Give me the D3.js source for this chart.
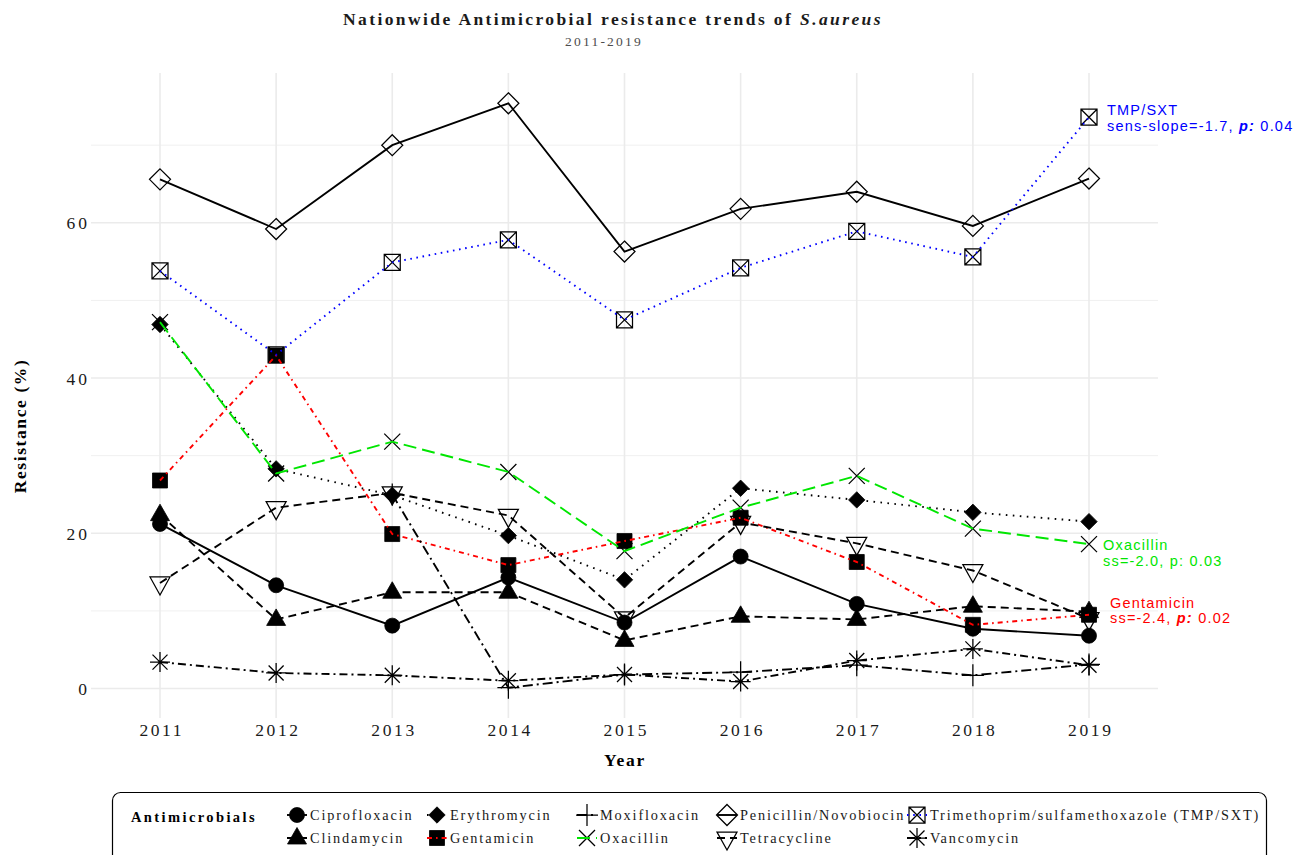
<!DOCTYPE html>
<html>
<head>
<meta charset="utf-8">
<script src="https://cdn.jsdelivr.net/npm/d3@7"></script>
<style>
  body { margin: 0; background: #fff; }
  svg { display: block; }
</style>
</head>
<body>
<svg id="chart" width="1311" height="855"></svg>
<script>
// ---- data: S. aureus resistance (%) per year ----
const years = [2011, 2012, 2013, 2014, 2015, 2016, 2017, 2018, 2019];
const yTicks = [0, 20, 40, 60];
const yMinorTicks = [10, 30, 50, 70];

const ciprofloxacin = [21.2, 13.3, 8.1, 14.3, 8.5, 17.0, 10.9, 7.7, 6.8];
const clindamycin   = [22.4, 8.9, 12.4, 12.4, 6.2, 9.3, 8.9, 10.6, 9.9];
const erythromycin  = [46.9, 28.3, 24.9, 19.7, 14.0, 25.8, 24.3, 22.7, 21.5];
const gentamicin    = [26.8, 42.9, 19.9, 15.9, 19.0, 22.0, 16.3, 8.2, 9.5];
const moxifloxacin  = [null, null, 25.0, 0.1, 1.8, 2.1, 3.0, 1.7, 3.1];
const oxacillin     = [47.2, 27.7, 31.8, 27.9, 17.7, 23.3, 27.4, 20.6, 18.6];
const penicillin    = [65.6, 59.2, 70.0, 75.4, 56.3, 61.8, 64.0, 59.6, 65.7];
const tetracycline  = [13.6, 23.3, 25.2, 22.3, 9.1, 21.4, 18.7, 15.2, 9.0];
const tmpSxt        = [53.8, 43.0, 54.9, 57.8, 47.5, 54.2, 58.9, 55.6, 73.6];
const vancomycin    = [3.4, 2.0, 1.7, 1.0, 1.8, 0.9, 3.6, 5.1, 3.0];

const seriesNames = [
  "Ciprofloxacin", "Clindamycin", "Erythromycin", "Gentamicin", "Moxifloxacin",
  "Oxacillin", "Penicillin/Novobiocin", "Tetracycline",
  "Trimethoprim/sulfamethoxazole (TMP/SXT)", "Vancomycin"
];
const seriesValues = [
  ciprofloxacin, clindamycin, erythromycin, gentamicin, moxifloxacin,
  oxacillin, penicillin, tetracycline, tmpSxt, vancomycin
];

// Mann-Kendall / Sen's slope notes for the significant trends
const trendNotes = [
  { series: "Trimethoprim/sulfamethoxazole (TMP/SXT)", title: "TMP/SXT", stat: "sens-slope=-1.7, ", p: "p:", pBold: true, pval: " 0.04" },
  { series: "Oxacillin", title: "Oxacillin", stat: "ss=-2.0, ", p: "p:", pBold: false, pval: " 0.03" },
  { series: "Gentamicin", title: "Gentamicin", stat: "ss=-2.4, ", p: "p:", pBold: true, pval: " 0.02" }
];

// ---- styling per series ----
const style = {
  "Ciprofloxacin": { color: "#000", dash: null, shape: "circle" },
  "Clindamycin": { color: "#000", dash: "8,5", shape: "triangle" },
  "Erythromycin": { color: "#000", dash: "1.6,5.4", shape: "diamondFilled" },
  "Gentamicin": { color: "#ff0000", dash: "5,4,1.6,4", shape: "square" },
  "Moxifloxacin": { color: "#000", dash: "10,4,2,4", shape: "plus" },
  "Oxacillin": { color: "#00e600", dash: "13,6", shape: "cross" },
  "Penicillin/Novobiocin": { color: "#000", dash: null, shape: "diamondOpen" },
  "Tetracycline": { color: "#000", dash: "8,5", shape: "triangleDown" },
  "Trimethoprim/sulfamethoxazole (TMP/SXT)": { color: "#0000ff", dash: "1.6,4.6", shape: "boxCross" },
  "Vancomycin": { color: "#000", dash: "8,4,2,4", shape: "asterisk" }
};
const noteColor = {
  "Trimethoprim/sulfamethoxazole (TMP/SXT)": "#0000ff",
  "Oxacillin": "#00e600",
  "Gentamicin": "#ff0000"
};

const shapes = {
  circle:        { d: d3.symbol(d3.symbolCircle, Math.PI * 7.5 * 7.5)(), fill: true },
  triangle:      { d: "M0,-10.5L9.5,6L-9.5,6Z", fill: true },
  square:        { d: "M-7.5,-7.5h15v15h-15Z", fill: true },
  diamondFilled: { d: "M0,-8.2L8.2,0L0,8.2L-8.2,0Z", fill: true },
  plus:          { d: "M-11,0H11M0,-11V11", fill: false },
  cross:         { d: "M-8,-8L8,8M-8,8L8,-8", fill: false },
  diamondOpen:   { d: "M0,-10.5L10.5,0L0,10.5L-10.5,0Z", fill: false },
  triangleDown:  { d: "M-10,-6L10,-6L0,12Z", fill: false },
  boxCross:      { d: "M-8,-8h16v16h-16ZM-8,-8L8,8M-8,8L8,-8", fill: false },
  asterisk:      { d: "M-10,0H10M0,-10V10M-7.5,-7.5L7.5,7.5M-7.5,7.5L7.5,-7.5", fill: false }
};

// ---- layout ----
const panel = { left: 91, right: 1158, top: 73, bottom: 718 };
const serif = "'Liberation Serif', 'Times New Roman', serif";
const sans = "'Liberation Sans', Arial, sans-serif";

const svg = d3.select("#chart");

const x = d3.scalePoint().domain(years).range([160, 1089]);
const y = d3.scaleLinear().domain([-3.8, 79.3]).range([panel.bottom, panel.top]);

// grid
const grid = svg.append("g");
grid.selectAll("line.minor").data(yMinorTicks).join("line")
  .attr("x1", panel.left).attr("x2", panel.right)
  .attr("y1", d => y(d)).attr("y2", d => y(d))
  .attr("stroke", "#f0f0f0").attr("stroke-width", 1);
grid.selectAll("line.major").data(yTicks).join("line")
  .attr("x1", panel.left).attr("x2", panel.right)
  .attr("y1", d => y(d)).attr("y2", d => y(d))
  .attr("stroke", "#ebebeb").attr("stroke-width", 1.6);
grid.selectAll("line.vx").data(years).join("line")
  .attr("x1", d => x(d)).attr("x2", d => x(d))
  .attr("y1", panel.top).attr("y2", panel.bottom)
  .attr("stroke", "#ebebeb").attr("stroke-width", 1.6);

// axes (text only, minimal theme)
const yAxis = d3.axisLeft(y).tickValues(yTicks).tickSize(0).tickPadding(0);
svg.append("g").attr("transform", `translate(${panel.left - 1},0)`).call(yAxis)
  .call(g => g.select(".domain").remove())
  .selectAll("text")
  .attr("font-family", serif).attr("font-size", 17.5).attr("fill", "#1a1a1a")
  .attr("letter-spacing", 3).attr("dy", "0.35em");

const xAxis = d3.axisBottom(x).tickSize(0).tickPadding(0);
svg.append("g").attr("transform", `translate(0,${panel.bottom + 18})`).call(xAxis)
  .call(g => g.select(".domain").remove())
  .selectAll("text")
  .attr("font-family", serif).attr("font-size", 17.5).attr("fill", "#1a1a1a")
  .attr("letter-spacing", 2.6).attr("dy", 0).attr("dx", 1.3);

// axis titles
svg.append("text").attr("x", 625).attr("y", 766)
  .attr("text-anchor", "middle").attr("font-family", serif)
  .attr("font-size", 17.5).attr("font-weight", "bold").attr("letter-spacing", 1.8)
  .text("Year");
svg.append("text").attr("transform", "translate(26,426) rotate(-90)")
  .attr("text-anchor", "middle").attr("font-family", serif)
  .attr("font-size", 17.5).attr("font-weight", "bold").attr("letter-spacing", 1.6)
  .text("Resistance (%)");

// title + subtitle
const title = svg.append("text").attr("x", 613).attr("y", 25)
  .attr("text-anchor", "middle").attr("font-family", serif)
  .attr("font-size", 17.5).attr("font-weight", "bold").attr("letter-spacing", 2.4)
  .attr("fill", "#1a1a1a");
title.append("tspan").text("Nationwide Antimicrobial resistance trends of ");
title.append("tspan").attr("font-style", "italic").text("S.aureus");
svg.append("text").attr("x", 604).attr("y", 46)
  .attr("text-anchor", "middle").attr("font-family", serif)
  .attr("font-size", 13.5).attr("letter-spacing", 2.2).attr("fill", "#4d4d4d")
  .text("2011-2019");

// series records
const series = seriesNames.map((name, i) => ({
  name,
  ...style[name],
  points: years.map((yr, j) => ({ year: yr, value: seriesValues[i][j] }))
    .filter(p => p.value !== null)
}));

function drawMarker(g, shapeName) {
  const s = shapes[shapeName];
  g.append("path").attr("d", s.d)
    .attr("fill", s.fill ? "#000" : "none")
    .attr("stroke", "#000")
    .attr("stroke-width", s.fill ? 0.8 : 1.25)
    .attr("stroke-linejoin", "miter");
}

// points first, lines on top
const pointLayer = svg.append("g");
series.forEach(s => {
  s.points.forEach(p => {
    const g = pointLayer.append("g").attr("transform", `translate(${x(p.year)},${y(p.value)})`);
    drawMarker(g, s.shape);
  });
});

const line = d3.line().x(d => x(d.year)).y(d => y(d.value));
const lineLayer = svg.append("g");
series.forEach(s => {
  lineLayer.append("path").datum(s.points)
    .attr("d", line)
    .attr("fill", "none")
    .attr("stroke", s.color)
    .attr("stroke-width", 1.9)
    .attr("stroke-dasharray", s.dash)
    .attr("stroke-linecap", "butt");
});

// trend notes next to the last year
const noteOffset = {
  "Trimethoprim/sulfamethoxazole (TMP/SXT)": { dx: 18, dy: -2 },
  "Oxacillin": { dx: 14, dy: 6 },
  "Gentamicin": { dx: 21, dy: -7 }
};
trendNotes.forEach(n => {
  const s = series.find(d => d.name === n.series);
  const last = s.points[s.points.length - 1];
  const off = noteOffset[n.series];
  const tx = x(last.year) + off.dx, ty = y(last.value) + off.dy;
  const t = svg.append("text").attr("font-family", sans).attr("font-size", 14.5)
    .attr("fill", noteColor[n.series]).attr("letter-spacing", 1.2);
  t.append("tspan").attr("x", tx).attr("y", ty).text(n.title);
  t.append("tspan").attr("x", tx).attr("y", ty + 15.5).text(n.stat);
  t.append("tspan").attr("font-weight", n.pBold ? "bold" : null)
    .attr("font-style", n.pBold ? "italic" : null).text(n.p);
  t.append("tspan").text(n.pval);
});

// legend
const legend = svg.append("g");
legend.append("rect").attr("x", 112.5).attr("y", 792.5)
  .attr("width", 1154).attr("height", 80).attr("rx", 8)
  .attr("fill", "#fff").attr("stroke", "#000").attr("stroke-width", 1.2);
legend.append("text").attr("x", 131).attr("y", 822)
  .attr("font-family", serif).attr("font-size", 14.5).attr("font-weight", "bold")
  .attr("letter-spacing", 2.4).text("Antimicrobials");

const colKeyX = [297, 437, 587, 727, 917];
const rowY = [815, 838];
series.forEach((s, i) => {
  const col = Math.floor(i / 2), row = i % 2;
  const cx = colKeyX[col], cy = rowY[row];
  const g = legend.append("g").attr("transform", `translate(${cx},${cy})`);
  drawMarker(g, s.shape);
  g.append("line").attr("x1", -10).attr("x2", 10)
    .attr("stroke", s.color).attr("stroke-width", 1.9)
    .attr("stroke-dasharray", s.dash);
  legend.append("text").attr("x", cx + 13).attr("y", cy + 5)
    .attr("font-family", serif).attr("font-size", 14.3)
    .attr("letter-spacing", 1.85).attr("fill", "#1a1a1a")
    .text(s.name);
});
</script>
</body>
</html>
